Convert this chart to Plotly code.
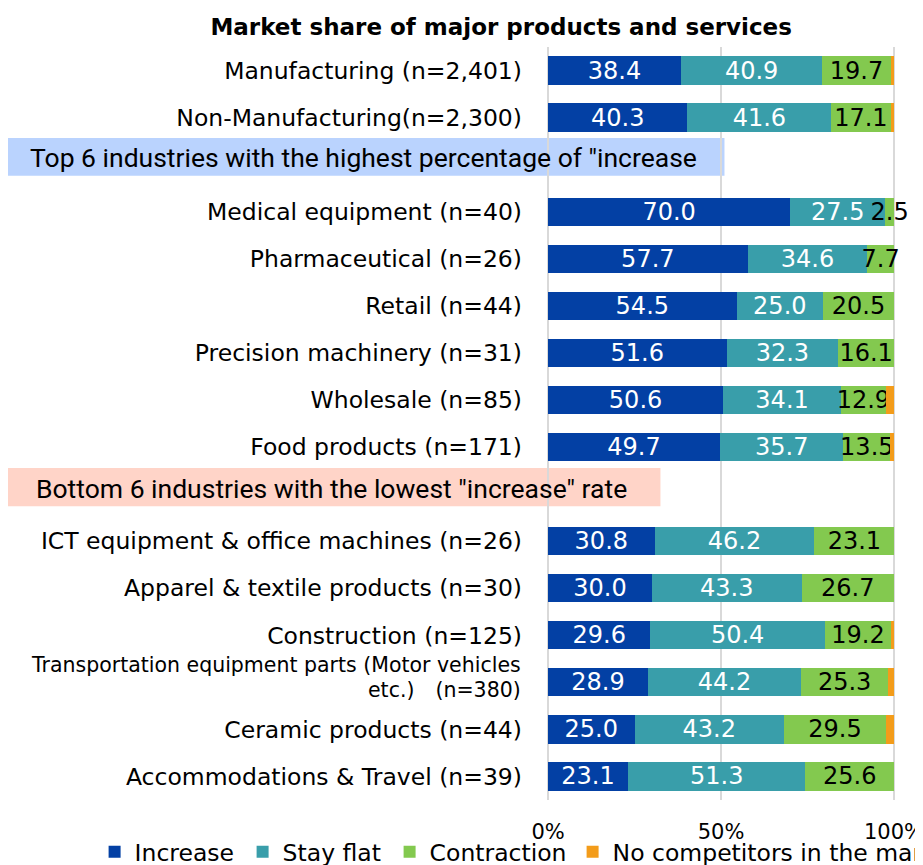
import plotly.graph_objects as go

# row labels, top to bottom (blank slots hold the section bands)
categories = [
    "Manufacturing (n=2,401)",
    "Non-Manufacturing(n=2,300)",
    " ",
    "Medical equipment (n=40)",
    "Pharmaceutical (n=26)",
    "Retail (n=44)",
    "Precision machinery (n=31)",
    "Wholesale (n=85)",
    "Food products (n=171)",
    "  ",
    "ICT equipment & office machines (n=26)",
    "Apparel & textile products (n=30)",
    "Construction (n=125)",
    "Transportation equipment parts (Motor vehicles etc.) (n=380)",
    "Ceramic products (n=44)",
    "Accommodations & Travel (n=39)",
]
rows = [c for c in categories if c.strip()]
long_label = ["Transportation equipment parts (Motor vehicles", "etc.)\u3000(n=380)"]

increase = [38.4, 40.3, 70.0, 57.7, 54.5, 51.6, 50.6, 49.7, 30.8, 30.0, 29.6, 28.9, 25.0, 23.1]
stay_flat = [40.9, 41.6, 27.5, 34.6, 25.0, 32.3, 34.1, 35.7, 46.2, 43.3, 50.4, 44.2, 43.2, 51.3]
contraction = [19.7, 17.1, 2.5, 7.7, 20.5, 16.1, 12.9, 13.5, 23.1, 26.7, 19.2, 25.3, 29.5, 25.6]
no_competitors = [1.0, 1.0, 0.0, 0.0, 0.0, 0.0, 2.4, 1.1, 0.0, 0.0, 0.8, 1.6, 2.3, 0.0]

series = [
    ("Increase", increase, "#0340A4", "white", 103),
    ("Stay flat", stay_flat, "#399EAA", "white", 102),
    ("Contraction", contraction, "#83C94F", "black", 138),
    ("No competitors in the market", no_competitors, "#F39C1A", None, 340),
]

FONT = "DejaVu Sans, Verdana, sans-serif"

fig = go.Figure()
for name, vals, col, tcol, lw in series:
    fig.add_trace(go.Bar(
        y=rows, x=vals, name=name, orientation="h",
        marker=dict(color=col, line=dict(width=0)),
        texttemplate="%{x:.1f}" if tcol else None,
        textposition="inside" if tcol else "none",
        insidetextanchor="middle",
        textangle=0,
        constraintext="none",
        insidetextfont=dict(family=FONT, size=24, color=tcol or "black"),
        cliponaxis=False,
        legendwidth=lw,
    ))

# section bands
fig.add_shape(type="rect", xref="paper", yref="paper", x0=-1.58, x1=0.51,
              y0=0.829, y1=0.879, fillcolor="#BAD3FE", line_width=0, layer="below")
fig.add_shape(type="rect", xref="paper", yref="paper", x0=-1.58, x1=0.326,
              y0=0.390, y1=0.441, fillcolor="#FFD4C8", line_width=0, layer="below")
fig.add_annotation(text='Top 6 industries with the highest percentage of "increase',
                   xref="paper", yref="paper", x=-1.49, y=0.853, xanchor="left",
                   yanchor="middle", showarrow=False,
                   font=dict(family="Roboto, sans-serif", size=26.5, color="black"))
fig.add_annotation(text='Bottom 6 industries with the lowest "increase" rate',
                   xref="paper", yref="paper", x=-1.475, y=0.414, xanchor="left",
                   yanchor="middle", showarrow=False,
                   font=dict(family="Roboto, sans-serif", size=26.5, color="black"))

# two-line label set in a smaller font
for line, shift in zip(long_label, [17, -8]):
    fig.add_annotation(text=line, xref="paper", yref="y", x=-0.07, y=categories[13],
                       xanchor="right", yanchor="middle", yshift=shift, showarrow=False,
                       font=dict(family=FONT, size=20.5, color="black"))

ticktext = ["" if c == categories[13] else c for c in categories]

fig.update_layout(
    width=915, height=857,
    barmode="stack", bargap=0.4,
    margin=dict(l=539, r=28, t=39, b=65, autoexpand=False),
    paper_bgcolor="white", plot_bgcolor="white",
    font=dict(family=FONT, color="black"),
    title=dict(text="<b>Market share of major products and services</b>",
               x=0.539, y=0.978, xanchor="center", yanchor="middle",
               font=dict(family=FONT, size=23, color="black")),
    legend=dict(orientation="h", x=-1.30, xanchor="left", y=-0.069, yanchor="middle",
                font=dict(family=FONT, size=23.5), traceorder="normal",
                bgcolor="rgba(0,0,0,0)"),
    showlegend=True,
)
fig.update_xaxes(range=[-0.3, 100.3], tickvals=[0, 50, 100], ticktext=["0%", "50%", "100%"],
                 showgrid=True, gridcolor="#D9D9D9", gridwidth=2, zeroline=False,
                 showline=False, tickfont=dict(size=21), ticklabelstandoff=17,
                 ticklabeloverflow="allow")
fig.update_yaxes(type="category", categoryorder="array", categoryarray=categories,
                 tickmode="array", tickvals=categories, ticktext=ticktext,
                 range=[15.5, -0.5], showgrid=False, zeroline=False, showline=False,
                 tickfont=dict(size=23.5), ticklabelstandoff=24)

fig.write_html("out.html")
